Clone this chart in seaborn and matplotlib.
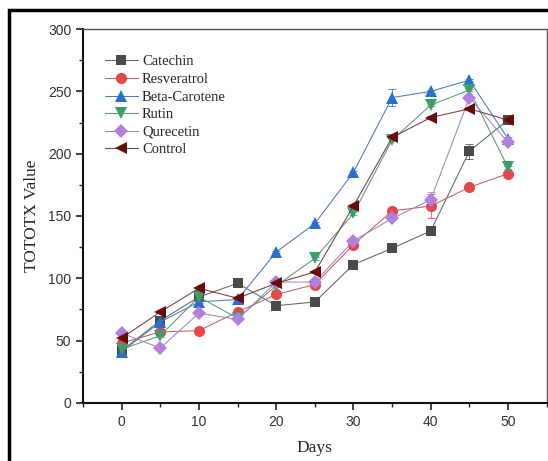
import numpy as np
import pandas as pd
import matplotlib
matplotlib.use('Agg')
import matplotlib.pyplot as plt
import seaborn as sns
from matplotlib.patches import Rectangle
from matplotlib.ticker import MultipleLocator
from matplotlib.colors import to_rgb

days = [0, 5, 10, 15, 20, 25, 30, 35, 40, 45, 50]
samples = ['Catechin', 'Resveratrol', 'Beta-Carotene', 'Rutin', 'Qurecetin', 'Control']

catechin = [42, 66, 85, 96, 78, 81, 111, 124, 138, 202, 227]
resveratrol = [48, 57, 58, 73, 87, 95, 127, 154, 158, 173, 184]
beta_carotene = [41, 65, 81, 83, 121, 144, 185, 245, 250, 259, 212]
rutin = [43, 54, 85, 68, 94, 116, 152, 211, 239, 251, 189]
qurecetin = [56, 44, 72, 67, 97, 97, 130, 148, 163, 245, 209]
control = [52, 73, 92, 84, 96, 105, 158, 213, 229, 236, 227]

catechin_err = [1, 1, 1, 1, 1, 1, 1, 1, 1, 6, 1]
resveratrol_err = [1, 1, 1, 1, 1, 1, 1, 1, 10, 1, 1]
beta_carotene_err = [1, 1, 1, 1, 1, 1, 1, 7, 1, 1, 1]
rutin_err = [1, 1, 1, 1, 1, 1, 1, 1, 1, 1, 1]
qurecetin_err = [1, 1, 1, 1, 1, 1, 1, 1, 6, 1, 1]
control_err = [1, 1, 1, 1, 1, 1, 1, 1, 1, 1, 1]

values = [catechin, resveratrol, beta_carotene, rutin, qurecetin, control]
errors = [catechin_err, resveratrol_err, beta_carotene_err, rutin_err, qurecetin_err, control_err]

colors = ['#4a4a4a', '#e5474b', '#2b6fcc', '#3d9e6b', '#b27fdd', '#6a0b0b']
markers = ['s', 'o', '^', 'v', 'D', '<']
sizes = [7, 8, 8.5, 8.5, 7, 8.5]

df = pd.DataFrame({
    'Days': np.tile(days, len(samples)),
    'Value': np.concatenate(values),
    'Sample': np.repeat(samples, len(days)),
})

sns.set_style('ticks')
plt.rcParams['font.family'] = ['Liberation Sans', 'DejaVu Sans']

fig = plt.figure(figsize=(5.48, 4.61), dpi=100)
ax = fig.add_axes([0.1515, 0.126, 0.846, 0.811])

for i, s in enumerate(samples):
    sub = df[df['Sample'] == s]
    ax.errorbar(sub['Days'], sub['Value'], yerr=errors[i], fmt='none',
                ecolor=colors[i], elinewidth=0.7, capsize=3, capthick=0.7, alpha=0.8, zorder=2)
    sns.lineplot(data=sub, x='Days', y='Value', ax=ax, color=colors[i], marker=markers[i],
                 markersize=sizes[i], markeredgewidth=0, linewidth=0.75, label=s, zorder=3)
    # the connecting lines look greyer than the markers
    ln = ax.lines[-1]
    c = np.array(to_rgb(colors[i]))
    ln.set_color(tuple(0.6 * c + 0.4 * np.array([0.55, 0.55, 0.55])))
    ln.set_markerfacecolor(colors[i])
    ln.set_markeredgecolor(colors[i])

ax.set_xlim(-5, 55)
ax.set_ylim(0, 300)
ax.xaxis.set_major_locator(MultipleLocator(10))
ax.xaxis.set_minor_locator(MultipleLocator(5))
ax.yaxis.set_major_locator(MultipleLocator(50))
ax.yaxis.set_minor_locator(MultipleLocator(25))
ax.tick_params(which='major', length=5, width=1.2, labelsize=10, colors='#222222', labelcolor='#333333')
ax.tick_params(which='minor', length=3, width=1.0, colors='#222222')

for side in ['left', 'bottom']:
    ax.spines[side].set_linewidth(1.5)
    ax.spines[side].set_color('#111111')
for side in ['top', 'right']:
    ax.spines[side].set_visible(True)
    ax.spines[side].set_linewidth(1.0)
    ax.spines[side].set_color('#555555')

ax.set_xlabel('Days', family='Liberation Serif', fontsize=12.5, labelpad=8)
ax.set_ylabel('TOTOTX Value', family='Liberation Serif', fontsize=12.5, labelpad=6)

handles, labels = ax.get_legend_handles_labels()
ax.legend(handles, labels, loc='upper left', bbox_to_anchor=(0.02, 0.965), frameon=False,
          prop={'family': 'Liberation Serif', 'size': 10.5}, handlelength=2.2,
          handletextpad=0.3, labelspacing=0.3)

# outer black frame of the figure (cropped on right and bottom)
fig.patches.append(Rectangle((8.5 / 548, -0.05), 1.2, 1 - 10.5 / 461 + 0.05,
                             transform=fig.transFigure, fill=False,
                             edgecolor='black', linewidth=2.5, zorder=0))

fig.savefig('out.png', dpi=100)
